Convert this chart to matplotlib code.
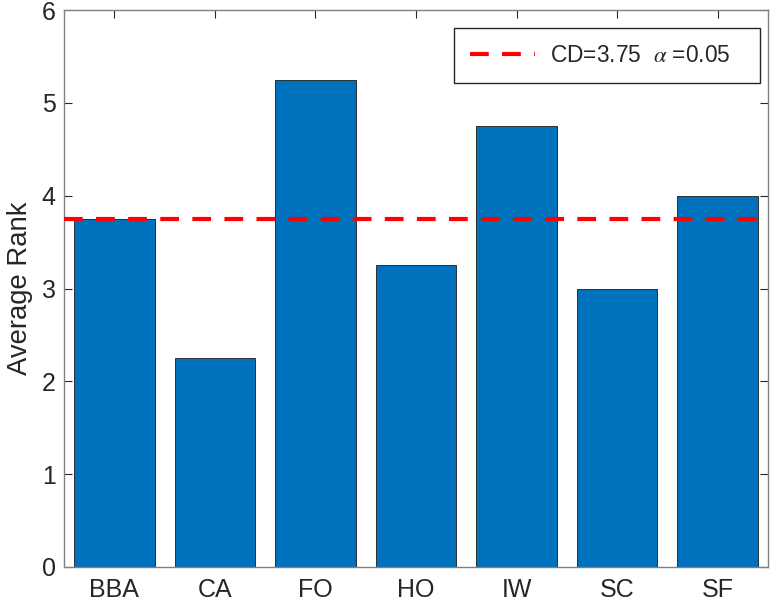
import numpy as np
import matplotlib
matplotlib.use("Agg")
import matplotlib.pyplot as plt

# data
methods = ['BBA', 'CA', 'FO', 'HO', 'IW', 'SC', 'SF']
avg_rank = [3.75, 2.25, 5.25, 3.25, 4.75, 3.0, 4.0]
cd_value = 3.75
alpha_level = 0.05
yticks = [0, 1, 2, 3, 4, 5, 6]

plt.rcParams['font.family'] = ['Liberation Sans', 'DejaVu Sans']
plt.rcParams['mathtext.fontset'] = 'stix'

dark = '#262626'
fig = plt.figure(figsize=(7.7, 6.05), dpi=100)
ax = fig.add_axes([64/770, 1 - 567/605, 704/770, 557/605])

x = np.arange(1, len(methods) + 1)
ax.bar(x, avg_rank, width=0.8, color='#0072BD', edgecolor='#1a1a1a',
       linewidth=0.6, zorder=2)
cd_label = 'CD=%.2f  $\\alpha$ =%.2f   ' % (cd_value, alpha_level)
ax.axhline(cd_value, color='#FF0000', lw=3, dashes=(4.5, 3.2), zorder=3,
           label=cd_label)

ax.set_xlim(0.5, len(methods) + 0.5)
ax.set_ylim(0, 6)
ax.set_xticks(x)
ax.set_xticklabels(methods)
ax.set_yticks(yticks)
ax.set_ylabel('Average Rank', fontsize=19.8, color=dark, labelpad=6)

ax.tick_params(direction='in', length=6, width=0.8, colors=dark,
               labelsize=18, top=True, right=True, pad=8)
ax.tick_params(axis='y', pad=6)
for s in ax.spines.values():
    s.set_color('#808080')
    s.set_linewidth(1.0)

leg = ax.legend(loc='upper right', bbox_to_anchor=(0.9886, 0.9677),
                borderaxespad=0, fontsize=16.4, fancybox=False,
                edgecolor=dark, framealpha=1, handlelength=2.85,
                handletextpad=0.65, borderpad=0.7)
leg.get_frame().set_linewidth(1.0)
for t in leg.get_texts():
    t.set_color(dark)

fig.savefig('out.png', dpi=100)
